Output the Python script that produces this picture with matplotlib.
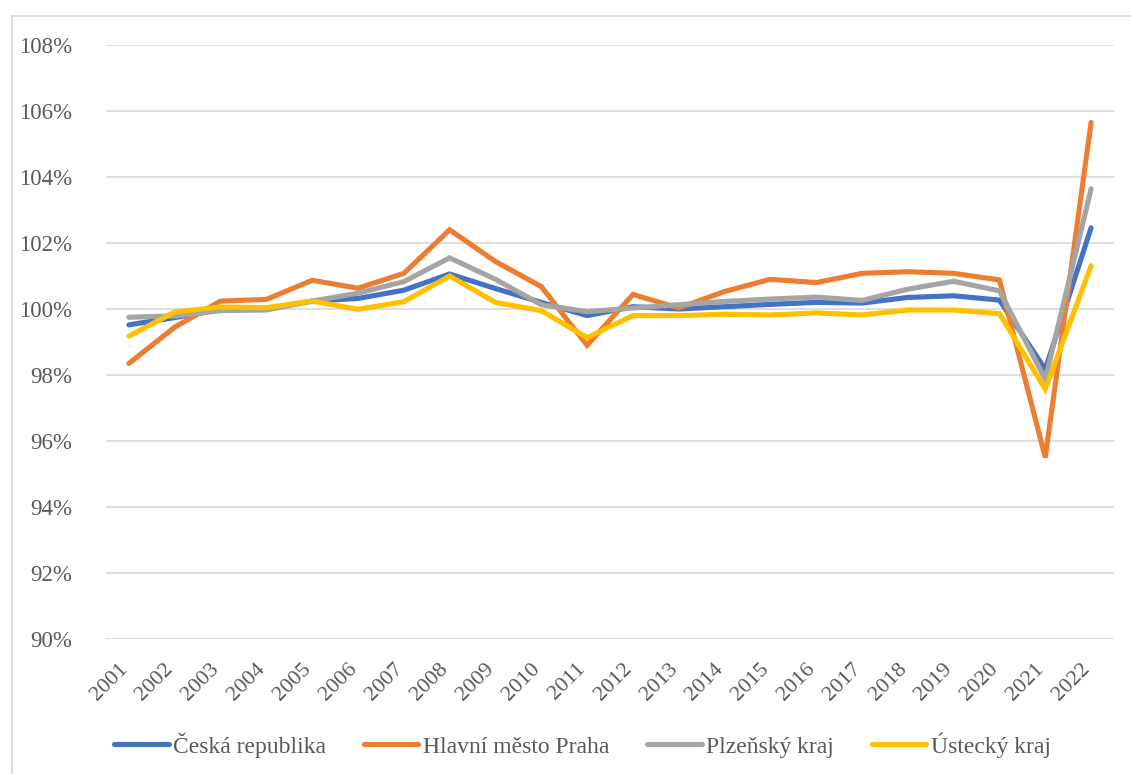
import numpy as np
import matplotlib
matplotlib.use("Agg")
from matplotlib import pyplot as plt
from matplotlib.lines import Line2D
from matplotlib.transforms import ScaledTranslation

years = [str(y) for y in range(2001, 2023)]

cr = [99.52, 99.74, 99.98, 100.0, 100.24, 100.32, 100.57, 101.06, 100.62, 100.2,
      99.8, 100.07, 100.0, 100.07, 100.14, 100.2, 100.18, 100.35, 100.4, 100.27,
      98.17, 102.46]
praha = [98.35, 99.45, 100.24, 100.29, 100.87, 100.63, 101.08, 102.4, 101.44, 100.68,
         98.9, 100.44, 100.03, 100.53, 100.9, 100.8, 101.08, 101.13, 101.08, 100.88,
         95.5, 105.65]
plzen = [99.75, 99.79, 99.95, 99.97, 100.24, 100.48, 100.83, 101.55, 100.9, 100.13,
         99.92, 100.03, 100.13, 100.23, 100.3, 100.36, 100.26, 100.6, 100.84, 100.55,
         97.87, 103.64]
usti = [99.18, 99.91, 100.06, 100.04, 100.24, 99.99, 100.22, 101.0, 100.2, 99.95,
        99.13, 99.8, 99.8, 99.84, 99.82, 99.88, 99.82, 99.97, 99.97, 99.86,
        97.57, 101.31]

names = ["Česká republika", "Hlavní město Praha", "Plzeňský kraj", "Ústecký kraj"]
colors = ["#4472C4", "#ED7D31", "#A5A5A5", "#FFC000"]

plt.rcParams["font.family"] = ["Liberation Serif", "DejaVu Serif"]

fig = plt.figure(figsize=(11.31, 7.74), dpi=100)
ax = fig.add_axes([106 / 1131, 1 - 639 / 774, (1114 - 106) / 1131, (639 - 45) / 774])

# outer chart border (top and left visible)
fig.add_artist(Line2D([12 / 1131, 1], [1 - 16 / 774, 1 - 16 / 774], color="#D9D9D9", lw=1.2))
fig.add_artist(Line2D([12 / 1131, 12 / 1131], [0, 1 - 16 / 774], color="#D9D9D9", lw=1.2))

x = np.arange(len(years))
for vals, name, col in zip([cr, praha, plzen, usti], names, colors):
    ax.plot(x, np.array(vals) / 100, color=col, lw=3.7, label=name,
            solid_capstyle="round", solid_joinstyle="miter")

ax.set_xlim(-0.5, len(years) - 0.5)
ax.set_ylim(0.90, 1.08)
yt = np.arange(0.90, 1.081, 0.02)
ax.set_yticks(yt)
ax.set_yticklabels([f"{int(round(v * 100))}%" for v in yt])
ax.set_xticks(x)
ax.set_xticklabels(years, rotation=45, ha="right", va="center", rotation_mode="anchor")
ax.grid(axis="y", color="#D9D9D9", lw=1.2)
ax.set_axisbelow(True)
for s in ax.spines.values():
    s.set_visible(False)
ax.tick_params(axis="both", length=0, labelsize=16.5, colors="#595959")
ax.tick_params(axis="x", labelsize=16, pad=19.5)
ax.tick_params(axis="y", pad=24.5)
shift = ScaledTranslation(-4 / 100, 0, fig.dpi_scale_trans)
for lab in ax.get_xticklabels():
    lab.set_transform(lab.get_transform() + shift)

fig.legend(loc="center", bbox_to_anchor=(0.515, 1 - 745 / 774), ncol=4, frameon=False,
           fontsize=17, handlelength=2.3, handletextpad=0.2, columnspacing=1.6,
           labelcolor="#595959")

fig.savefig("out.png", dpi=100)
